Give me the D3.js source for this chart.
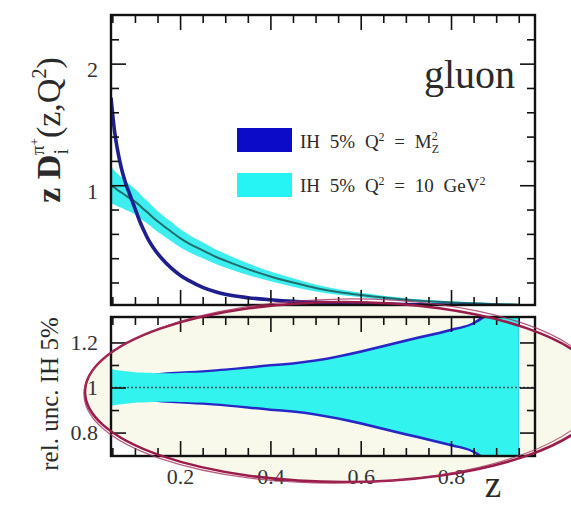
<!DOCTYPE html>
<html>
<head>
<meta charset="utf-8">
<script src="https://cdn.jsdelivr.net/npm/d3@7"></script>
<style>
  body { margin: 0; background: #fff; }
  svg { display: block; }
  text { font-family: "Liberation Serif", "Times New Roman", serif; fill: #2a2a2a; }
  .tick line { stroke: #111; stroke-width: 1.6; }
  .tick text { font-family: "Liberation Serif", serif; fill: #333; }
</style>
</head>
<body>
<div id="chart"></div>
<script>
// z grid shared by all curves
const zGrid = [0.047, 0.055, 0.06, 0.07, 0.08, 0.09, 0.1, 0.11, 0.12, 0.13, 0.14, 0.16, 0.18, 0.2, 0.22,
  0.25, 0.28, 0.3, 0.35, 0.4, 0.45, 0.5, 0.55, 0.6, 0.65, 0.7, 0.75, 0.8, 0.85, 0.875, 0.9, 0.95];

// top panel: z D(z,Q^2) at Q^2 = MZ^2 (blue) and Q^2 = 10 GeV^2 (cyan)
const mzCentral = [1.72, 1.44, 1.32, 1.14, 1.01, 0.91, 0.81, 0.71, 0.625, 0.55, 0.49, 0.395, 0.32, 0.26, 0.215,
  0.16, 0.122, 0.103, 0.075, 0.058, 0.045, 0.037, 0.031, 0.026, 0.022, 0.019, 0.016, 0.013, 0.011, 0.01, 0.009, 0.007];
const q10Central = [1.0, 0.98, 0.965, 0.94, 0.915, 0.89, 0.865, 0.835, 0.8, 0.77, 0.735, 0.675, 0.62, 0.565, 0.52,
  0.465, 0.41, 0.38, 0.31, 0.25, 0.2, 0.155, 0.122, 0.097, 0.076, 0.058, 0.045, 0.036, 0.029, 0.026, 0.023, 0.018];
const q10BandHalf = [0.15, 0.14, 0.135, 0.125, 0.118, 0.11, 0.105, 0.1, 0.096, 0.092, 0.088, 0.083, 0.079, 0.075, 0.071,
  0.066, 0.06, 0.056, 0.048, 0.04, 0.034, 0.028, 0.023, 0.019, 0.016, 0.013, 0.011, 0.009, 0.008, 0.007, 0.007, 0.006];

// bottom panel: relative uncertainty (half width around 1)
const mzRelUnc = [0.05, 0.05, 0.05, 0.051, 0.052, 0.053, 0.054, 0.056, 0.058, 0.06, 0.062, 0.066, 0.069, 0.071, 0.073,
  0.077, 0.081, 0.084, 0.094, 0.104, 0.112, 0.125, 0.143, 0.165, 0.19, 0.214, 0.237, 0.262, 0.292, 0.33, 0.4, 0.5];
const q10RelUnc = [0.082, 0.079, 0.077, 0.074, 0.072, 0.07, 0.068, 0.067, 0.066, 0.065, 0.064, 0.063, 0.063, 0.064, 0.065,
  0.067, 0.071, 0.074, 0.083, 0.093, 0.101, 0.114, 0.132, 0.153, 0.178, 0.202, 0.225, 0.25, 0.28, 0.31, 0.35, 0.42];

// ticks
const xMajor = [0.2, 0.4, 0.6, 0.8];
const xMinor = [0.05, 0.1, 0.15, 0.25, 0.3, 0.35, 0.45, 0.5, 0.55, 0.65, 0.7, 0.75, 0.85, 0.9, 0.95];
const yTopMajor = [1, 2];
const yTopMinor = [0.2, 0.4, 0.6, 0.8, 1.2, 1.4, 1.6, 1.8, 2.2];
const yBotMajor = [0.8, 1, 1.2];
const yBotMinor = [0.9, 1.1];

const legendLabels = ['IH 5% Q', 'IH 5% Q'];

const width = 571;
const height = 505;
const left = 111, right = 535;
const topPanel = { top: 15, bottom: 305 };
const botPanel = { top: 317, bottom: 456 };
const majorLen = 15, minorLen = 8;

const svg = d3.select('#chart')
  .append('svg')
  .attr('width', width)
  .attr('height', height);

const x = d3.scaleLinear().domain([0.047, 0.986]).range([left, right]);
const yTop = d3.scaleLinear().domain([0.015, 2.4]).range([topPanel.bottom, topPanel.top]);
const yBot = d3.scaleLinear().domain([0.696, 1.313]).range([botPanel.bottom, botPanel.top]);

const rows = zGrid.map((z, i) => ({
  z: z, mz: mzCentral[i], q10: q10Central[i], q10h: q10BandHalf[i],
  mzu: mzRelUnc[i], q10u: q10RelUnc[i]
}));

const defs = svg.append('defs');
defs.append('clipPath').attr('id', 'clipTop')
  .append('rect').attr('x', left).attr('y', topPanel.top)
  .attr('width', right - left).attr('height', topPanel.bottom - topPanel.top);
defs.append('clipPath').attr('id', 'clipBot')
  .append('rect').attr('x', left).attr('y', botPanel.top)
  .attr('width', right - left).attr('height', botPanel.bottom - botPanel.top);

// highlight ellipse (annotation)
const ell = { cx: 344, cy: 392, rx: 259, ry: 90 };
svg.append('ellipse')
  .attr('cx', ell.cx).attr('cy', ell.cy).attr('rx', ell.rx).attr('ry', ell.ry)
  .attr('fill', '#f8f8eb');

const plotTop = () => {
  const g = svg.append('g').attr('clip-path', 'url(#clipTop)');
  g.append('path').datum(rows)
    .attr('fill', '#3eeeee')
    .attr('d', d3.area().curve(d3.curveMonotoneX)
      .x(d => x(d.z)).y0(d => yTop(d.q10 - d.q10h)).y1(d => yTop(d.q10 + d.q10h)));
  g.append('path').datum(rows)
    .attr('fill', 'none').attr('stroke', '#1f6e70').attr('stroke-width', 2)
    .attr('d', d3.line().curve(d3.curveMonotoneX).x(d => x(d.z)).y(d => yTop(d.q10)));
  g.append('path').datum(rows)
    .attr('fill', 'none').attr('stroke', '#1e1e8e').attr('stroke-width', 3.6)
    .attr('d', d3.line().curve(d3.curveMonotoneX).x(d => x(d.z)).y(d => yTop(d.mz)));
};

const plotBottom = () => {
  const g = svg.append('g').attr('clip-path', 'url(#clipBot)');
  g.append('path').datum(rows)
    .attr('fill', '#2727c6')
    .attr('d', d3.area().curve(d3.curveMonotoneX)
      .x(d => x(d.z)).y0(d => yBot(1 - d.mzu)).y1(d => yBot(1 + d.mzu)));
  g.append('path').datum(rows)
    .attr('fill', '#33f3ee')
    .attr('d', d3.area().curve(d3.curveMonotoneX)
      .x(d => x(d.z)).y0(d => yBot(1 - d.q10u)).y1(d => yBot(1 + d.q10u)));
  g.append('line')
    .attr('x1', left).attr('x2', right).attr('y1', yBot(1)).attr('y2', yBot(1))
    .attr('stroke', '#2f5f5f').attr('stroke-width', 1.5).attr('stroke-dasharray', '2,2');
};

const frameAxes = (panel, y, yMajor, yMinor, yFmt, xLabels, labelDy) => {
  const fmt = d3.format('~g');
  const put = (axis, tx, ty, size, values, labels, pad) => {
    const a = axis.tickValues(values).tickSize(-size).tickPadding(pad || 3)
      .tickFormat(labels ? labels : '');
    const g = svg.append('g').attr('transform', 'translate(' + tx + ',' + ty + ')').call(a);
    g.select('.domain').remove();
    return g;
  };
  // bottom edge
  const xb = put(d3.axisBottom(x), 0, panel.bottom, majorLen, xMajor, xLabels ? fmt : null, 12);
  xb.selectAll('text').style('font-size', '22px');
  put(d3.axisBottom(x), 0, panel.bottom, minorLen, xMinor);
  // top edge
  put(d3.axisTop(x), 0, panel.top, majorLen, xMajor);
  put(d3.axisTop(x), 0, panel.top, minorLen, xMinor);
  // left edge
  const yl = put(d3.axisLeft(y), left, 0, majorLen, yMajor, yFmt, 13);
  yl.selectAll('text').style('font-size', '22px').attr('dy', labelDy);
  put(d3.axisLeft(y), left, 0, minorLen, yMinor);
  // right edge
  put(d3.axisRight(y), right, 0, majorLen, yMajor);
  put(d3.axisRight(y), right, 0, minorLen, yMinor);

  svg.append('rect')
    .attr('x', left).attr('y', panel.top)
    .attr('width', right - left).attr('height', panel.bottom - panel.top)
    .attr('fill', 'none').attr('stroke', '#111').attr('stroke-width', 2.4);
};

const plotLegend = () => {
  const colors = ['#0b0bc8', '#26f4f4'];
  const ys = [128, 173];
  ys.forEach((yy, i) => {
    svg.append('rect').attr('x', 237).attr('y', yy)
      .attr('width', 55).attr('height', 24).attr('fill', colors[i]);
  });
  const t1 = svg.append('text').attr('x', 300).attr('y', 148)
    .style('font-size', '19px').style('word-spacing', '5px');
  t1.append('tspan').text(legendLabels[0]);
  t1.append('tspan').attr('dy', -7).style('font-size', '12px').text('2');
  t1.append('tspan').attr('dy', 7).text(' = M');
  t1.append('tspan').attr('dy', -8).style('font-size', '12px').text('2');
  t1.append('tspan').attr('dx', -6).attr('dy', 13).style('font-size', '12px').text('Z');

  const t2 = svg.append('text').attr('x', 300).attr('y', 192)
    .style('font-size', '19px').style('word-spacing', '5px');
  t2.append('tspan').text(legendLabels[1]);
  t2.append('tspan').attr('dy', -7).style('font-size', '12px').text('2');
  t2.append('tspan').attr('dy', 7).text(' = 10 GeV');
  t2.append('tspan').attr('dy', -7).style('font-size', '12px').text('2');
};

const plotLabels = () => {
  svg.append('text').attr('x', 515).attr('y', 88)
    .attr('text-anchor', 'end').style('font-size', '40px').text('gluon');

  const yt = svg.append('text')
    .attr('transform', 'translate(60,130) rotate(-90)')
    .attr('text-anchor', 'middle').style('font-size', '34px');
  yt.append('tspan').style('font-weight', 'bold').text('z D');
  yt.append('tspan').attr('dy', 8).style('font-size', '20px').text('i');
  yt.append('tspan').attr('dx', -6).attr('dy', -24).style('font-size', '19px').text('π');
  yt.append('tspan').attr('dy', -5).style('font-size', '13px').text('+');
  yt.append('tspan').attr('dy', 21).text('(z,Q');
  yt.append('tspan').attr('dy', -14).style('font-size', '20px').text('2');
  yt.append('tspan').attr('dy', 14).text(')');

  svg.append('text')
    .attr('transform', 'translate(58,394) rotate(-90)')
    .attr('text-anchor', 'middle').style('font-size', '25px')
    .text('rel. unc. IH 5%');

  svg.append('text').attr('x', 493).attr('y', 497)
    .attr('text-anchor', 'middle').style('font-size', '37px').text('z');
};

const plotEllipse = () => {
  svg.append('ellipse')
    .attr('cx', ell.cx).attr('cy', ell.cy).attr('rx', ell.rx).attr('ry', ell.ry)
    .attr('fill', 'none').attr('stroke', '#9a1c4b').attr('stroke-width', 2.6);
  svg.append('ellipse')
    .attr('cx', ell.cx - 2).attr('cy', ell.cy - 1).attr('rx', ell.rx - 1).attr('ry', ell.ry + 2)
    .attr('transform', 'rotate(-0.8,' + ell.cx + ',' + ell.cy + ')')
    .attr('fill', 'none').attr('stroke', '#a8325e').attr('stroke-width', 1.2).attr('opacity', 0.8);
};

plotTop();
frameAxes(topPanel, yTop, yTopMajor, yTopMinor, d3.format('d'), false, '0.6em');
plotBottom();
frameAxes(botPanel, yBot, yBotMajor, yBotMinor, d3.format('~g'), true, '0.32em');
plotLegend();
plotLabels();
plotEllipse();
</script>
</body>
</html>
